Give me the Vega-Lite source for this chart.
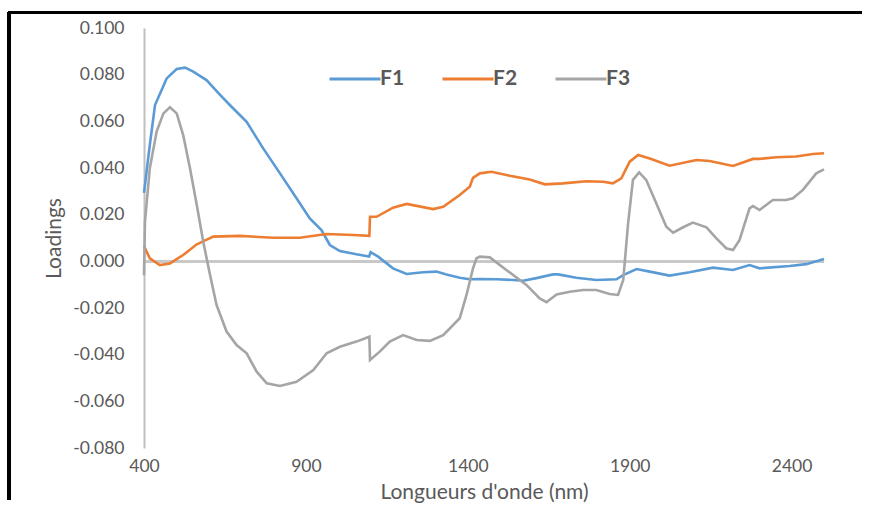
{
  "$schema": "https://vega.github.io/schema/vega-lite/v6.json",
  "width": 680,
  "height": 420,
  "autosize": {"type": "none"},
  "padding": {"left": 144, "top": 28, "right": 46, "bottom": 58},
  "background": "white",
  "config": {
    "view": {"stroke": null},
    "font": "Lato",
    "locale": {"number": {"decimal": ".", "thousands": ",", "grouping": [3], "currency": ["$", ""], "minus": "-"}}
  },
  "data": {"values": [
    {"s":"F1","nm":400,"v":0.0293},{"s":"F1","nm":418,"v":0.0499},{"s":"F1","nm":434,"v":0.067},{"s":"F1","nm":470,"v":0.0784},{"s":"F1","nm":501,"v":0.0824},{"s":"F1","nm":527,"v":0.083},{"s":"F1","nm":552,"v":0.0813},{"s":"F1","nm":593,"v":0.0777},{"s":"F1","nm":635,"v":0.0713},{"s":"F1","nm":665,"v":0.067},{"s":"F1","nm":717,"v":0.0598},{"s":"F1","nm":768,"v":0.0484},{"s":"F1","nm":820,"v":0.0377},{"s":"F1","nm":871,"v":0.027},{"s":"F1","nm":912,"v":0.0184},{"s":"F1","nm":948,"v":0.0134},{"s":"F1","nm":974,"v":0.007},{"s":"F1","nm":1005,"v":0.0044},{"s":"F1","nm":1056,"v":0.003},{"s":"F1","nm":1095,"v":0.0021},{"s":"F1","nm":1100,"v":0.0039},{"s":"F1","nm":1123,"v":0.002},{"s":"F1","nm":1169,"v":-0.003},{"s":"F1","nm":1211,"v":-0.0054},{"s":"F1","nm":1262,"v":-0.0047},{"s":"F1","nm":1303,"v":-0.0044},{"s":"F1","nm":1334,"v":-0.0056},{"s":"F1","nm":1375,"v":-0.007},{"s":"F1","nm":1406,"v":-0.0077},{"s":"F1","nm":1437,"v":-0.0076},{"s":"F1","nm":1489,"v":-0.0077},{"s":"F1","nm":1540,"v":-0.008},{"s":"F1","nm":1571,"v":-0.0083},{"s":"F1","nm":1612,"v":-0.0072},{"s":"F1","nm":1663,"v":-0.0056},{"s":"F1","nm":1679,"v":-0.0056},{"s":"F1","nm":1735,"v":-0.007},{"s":"F1","nm":1797,"v":-0.008},{"s":"F1","nm":1859,"v":-0.0077},{"s":"F1","nm":1880,"v":-0.0059},{"s":"F1","nm":1921,"v":-0.0033},{"s":"F1","nm":1962,"v":-0.0044},{"s":"F1","nm":2023,"v":-0.0061},{"s":"F1","nm":2085,"v":-0.0047},{"s":"F1","nm":2157,"v":-0.0027},{"s":"F1","nm":2219,"v":-0.0037},{"s":"F1","nm":2270,"v":-0.0016},{"s":"F1","nm":2301,"v":-0.003},{"s":"F1","nm":2394,"v":-0.002},{"s":"F1","nm":2445,"v":-0.0012},{"s":"F1","nm":2500,"v":0.001},
    {"s":"F2","nm":400,"v":0.0065},{"s":"F2","nm":418,"v":0.0013},{"s":"F2","nm":449,"v":-0.0016},{"s":"F2","nm":480,"v":-0.0009},{"s":"F2","nm":521,"v":0.0027},{"s":"F2","nm":563,"v":0.0073},{"s":"F2","nm":614,"v":0.0106},{"s":"F2","nm":696,"v":0.0109},{"s":"F2","nm":799,"v":0.0101},{"s":"F2","nm":881,"v":0.0101},{"s":"F2","nm":964,"v":0.0117},{"s":"F2","nm":1046,"v":0.0113},{"s":"F2","nm":1096,"v":0.0109},{"s":"F2","nm":1098,"v":0.0191},{"s":"F2","nm":1118,"v":0.0191},{"s":"F2","nm":1169,"v":0.023},{"s":"F2","nm":1211,"v":0.0246},{"s":"F2","nm":1293,"v":0.0224},{"s":"F2","nm":1324,"v":0.0234},{"s":"F2","nm":1375,"v":0.0284},{"s":"F2","nm":1406,"v":0.032},{"s":"F2","nm":1416,"v":0.0358},{"s":"F2","nm":1437,"v":0.0377},{"s":"F2","nm":1473,"v":0.0384},{"s":"F2","nm":1530,"v":0.0367},{"s":"F2","nm":1591,"v":0.0351},{"s":"F2","nm":1638,"v":0.033},{"s":"F2","nm":1694,"v":0.0334},{"s":"F2","nm":1766,"v":0.0343},{"s":"F2","nm":1818,"v":0.0341},{"s":"F2","nm":1848,"v":0.0334},{"s":"F2","nm":1874,"v":0.0356},{"s":"F2","nm":1900,"v":0.0427},{"s":"F2","nm":1926,"v":0.0456},{"s":"F2","nm":1962,"v":0.0441},{"s":"F2","nm":2023,"v":0.041},{"s":"F2","nm":2106,"v":0.0434},{"s":"F2","nm":2147,"v":0.043},{"s":"F2","nm":2219,"v":0.0409},{"s":"F2","nm":2281,"v":0.0439},{"s":"F2","nm":2301,"v":0.0439},{"s":"F2","nm":2353,"v":0.0446},{"s":"F2","nm":2414,"v":0.0449},{"s":"F2","nm":2466,"v":0.046},{"s":"F2","nm":2500,"v":0.0463},
    {"s":"F3","nm":400,"v":-0.006},{"s":"F3","nm":403,"v":0.017},{"s":"F3","nm":418,"v":0.0399},{"s":"F3","nm":439,"v":0.0556},{"s":"F3","nm":460,"v":0.0634},{"s":"F3","nm":480,"v":0.066},{"s":"F3","nm":501,"v":0.0634},{"s":"F3","nm":521,"v":0.0541},{"s":"F3","nm":542,"v":0.0399},{"s":"F3","nm":563,"v":0.0241},{"s":"F3","nm":583,"v":0.0084},{"s":"F3","nm":604,"v":-0.0059},{"s":"F3","nm":624,"v":-0.0187},{"s":"F3","nm":655,"v":-0.0301},{"s":"F3","nm":686,"v":-0.0359},{"s":"F3","nm":717,"v":-0.0394},{"s":"F3","nm":748,"v":-0.0473},{"s":"F3","nm":779,"v":-0.0523},{"s":"F3","nm":820,"v":-0.0534},{"s":"F3","nm":871,"v":-0.0516},{"s":"F3","nm":923,"v":-0.0466},{"s":"F3","nm":964,"v":-0.0394},{"s":"F3","nm":1005,"v":-0.0366},{"s":"F3","nm":1056,"v":-0.0344},{"s":"F3","nm":1096,"v":-0.0323},{"s":"F3","nm":1098,"v":-0.0423},{"s":"F3","nm":1128,"v":-0.0387},{"s":"F3","nm":1159,"v":-0.0344},{"s":"F3","nm":1200,"v":-0.0316},{"s":"F3","nm":1242,"v":-0.0337},{"s":"F3","nm":1283,"v":-0.0341},{"s":"F3","nm":1324,"v":-0.0316},{"s":"F3","nm":1375,"v":-0.0244},{"s":"F3","nm":1396,"v":-0.0144},{"s":"F3","nm":1416,"v":-0.003},{"s":"F3","nm":1427,"v":0.0013},{"s":"F3","nm":1437,"v":0.002},{"s":"F3","nm":1468,"v":0.0017},{"s":"F3","nm":1519,"v":-0.0037},{"s":"F3","nm":1581,"v":-0.0101},{"s":"F3","nm":1622,"v":-0.0159},{"s":"F3","nm":1643,"v":-0.0175},{"s":"F3","nm":1674,"v":-0.0142},{"s":"F3","nm":1715,"v":-0.013},{"s":"F3","nm":1756,"v":-0.0123},{"s":"F3","nm":1797,"v":-0.0123},{"s":"F3","nm":1838,"v":-0.014},{"s":"F3","nm":1864,"v":-0.0144},{"s":"F3","nm":1880,"v":-0.008},{"s":"F3","nm":1895,"v":0.0163},{"s":"F3","nm":1910,"v":0.0349},{"s":"F3","nm":1929,"v":0.0381},{"s":"F3","nm":1951,"v":0.0349},{"s":"F3","nm":1982,"v":0.0249},{"s":"F3","nm":2013,"v":0.0148},{"s":"F3","nm":2034,"v":0.0123},{"s":"F3","nm":2065,"v":0.0146},{"s":"F3","nm":2095,"v":0.0166},{"s":"F3","nm":2137,"v":0.0146},{"s":"F3","nm":2167,"v":0.0099},{"s":"F3","nm":2198,"v":0.0056},{"s":"F3","nm":2219,"v":0.0049},{"s":"F3","nm":2239,"v":0.0091},{"s":"F3","nm":2270,"v":0.0227},{"s":"F3","nm":2281,"v":0.0237},{"s":"F3","nm":2301,"v":0.022},{"s":"F3","nm":2342,"v":0.0263},{"s":"F3","nm":2383,"v":0.0263},{"s":"F3","nm":2404,"v":0.027},{"s":"F3","nm":2435,"v":0.0306},{"s":"F3","nm":2476,"v":0.0377},{"s":"F3","nm":2500,"v":0.0394}
  ]},
  "layer": [
    {
      "mark": {"type": "rule", "color": "#c8c8c8", "strokeWidth": 2},
      "encoding": {
        "y": {"datum": 0, "type": "quantitative"}
      }
    },
    {
      "mark": {"type": "line", "strokeWidth": 2.6, "interpolate": "linear"},
      "encoding": {
        "x": {
          "field": "nm", "type": "quantitative",
          "scale": {"domain": [400, 2500], "nice": false, "zero": false},
          "axis": {
            "values": [400, 900, 1400, 1900, 2400], "format": "d",
            "domain": false, "ticks": false, "grid": false,
            "labelFontSize": 17.5, "labelColor": "#595959", "labelPadding": 9, "labelFlush": false,
            "title": "Longueurs d'onde (nm)", "titleFontSize": 21, "titleColor": "#595959", "titleFontWeight": "normal", "titlePadding": 7
          }
        },
        "y": {
          "field": "v", "type": "quantitative",
          "scale": {"domain": [-0.08, 0.1], "nice": false, "zero": false},
          "axis": {
            "values": [-0.08, -0.06, -0.04, -0.02, 0, 0.02, 0.04, 0.06, 0.08, 0.1], "format": ".3f",
            "domain": true, "domainColor": "#c0c0c0", "domainWidth": 2,
            "ticks": false, "grid": false,
            "labelFontSize": 17.5, "labelColor": "#595959", "labelPadding": 20,
            "title": "Loadings", "titleFontSize": 21, "titleColor": "#595959", "titleFontWeight": "normal", "titlePadding": 8
          }
        },
        "color": {
          "field": "s", "type": "nominal",
          "scale": {"domain": ["F1", "F2", "F3"], "range": ["#5B9BD5", "#ED7D31", "#A5A5A5"]},
          "legend": {
            "title": null, "orient": "none", "legendX": 184, "legendY": 24, "direction": "horizontal",
            "symbolType": "stroke", "symbolSize": 2600, "symbolStrokeWidth": 3,
            "labelFontSize": 21, "labelFontWeight": "bold", "labelColor": "#595959", "labelOffset": -2,
            "columnPadding": 31, "padding": 0
          }
        }
      }
    },
    {
      "mark": {"type": "rule", "color": "black", "strokeWidth": 3, "clip": false},
      "encoding": {
        "x": {"datum": -18, "type": "quantitative"},
        "x2": {"datum": 2617},
        "y": {"datum": 0.1066, "type": "quantitative"}
      }
    },
    {
      "mark": {"type": "rule", "color": "black", "strokeWidth": 3, "clip": false},
      "encoding": {
        "x": {"datum": -18, "type": "quantitative"},
        "y": {"datum": 0.1066, "type": "quantitative"},
        "y2": {"datum": -0.1023}
      }
    }
  ]
}
